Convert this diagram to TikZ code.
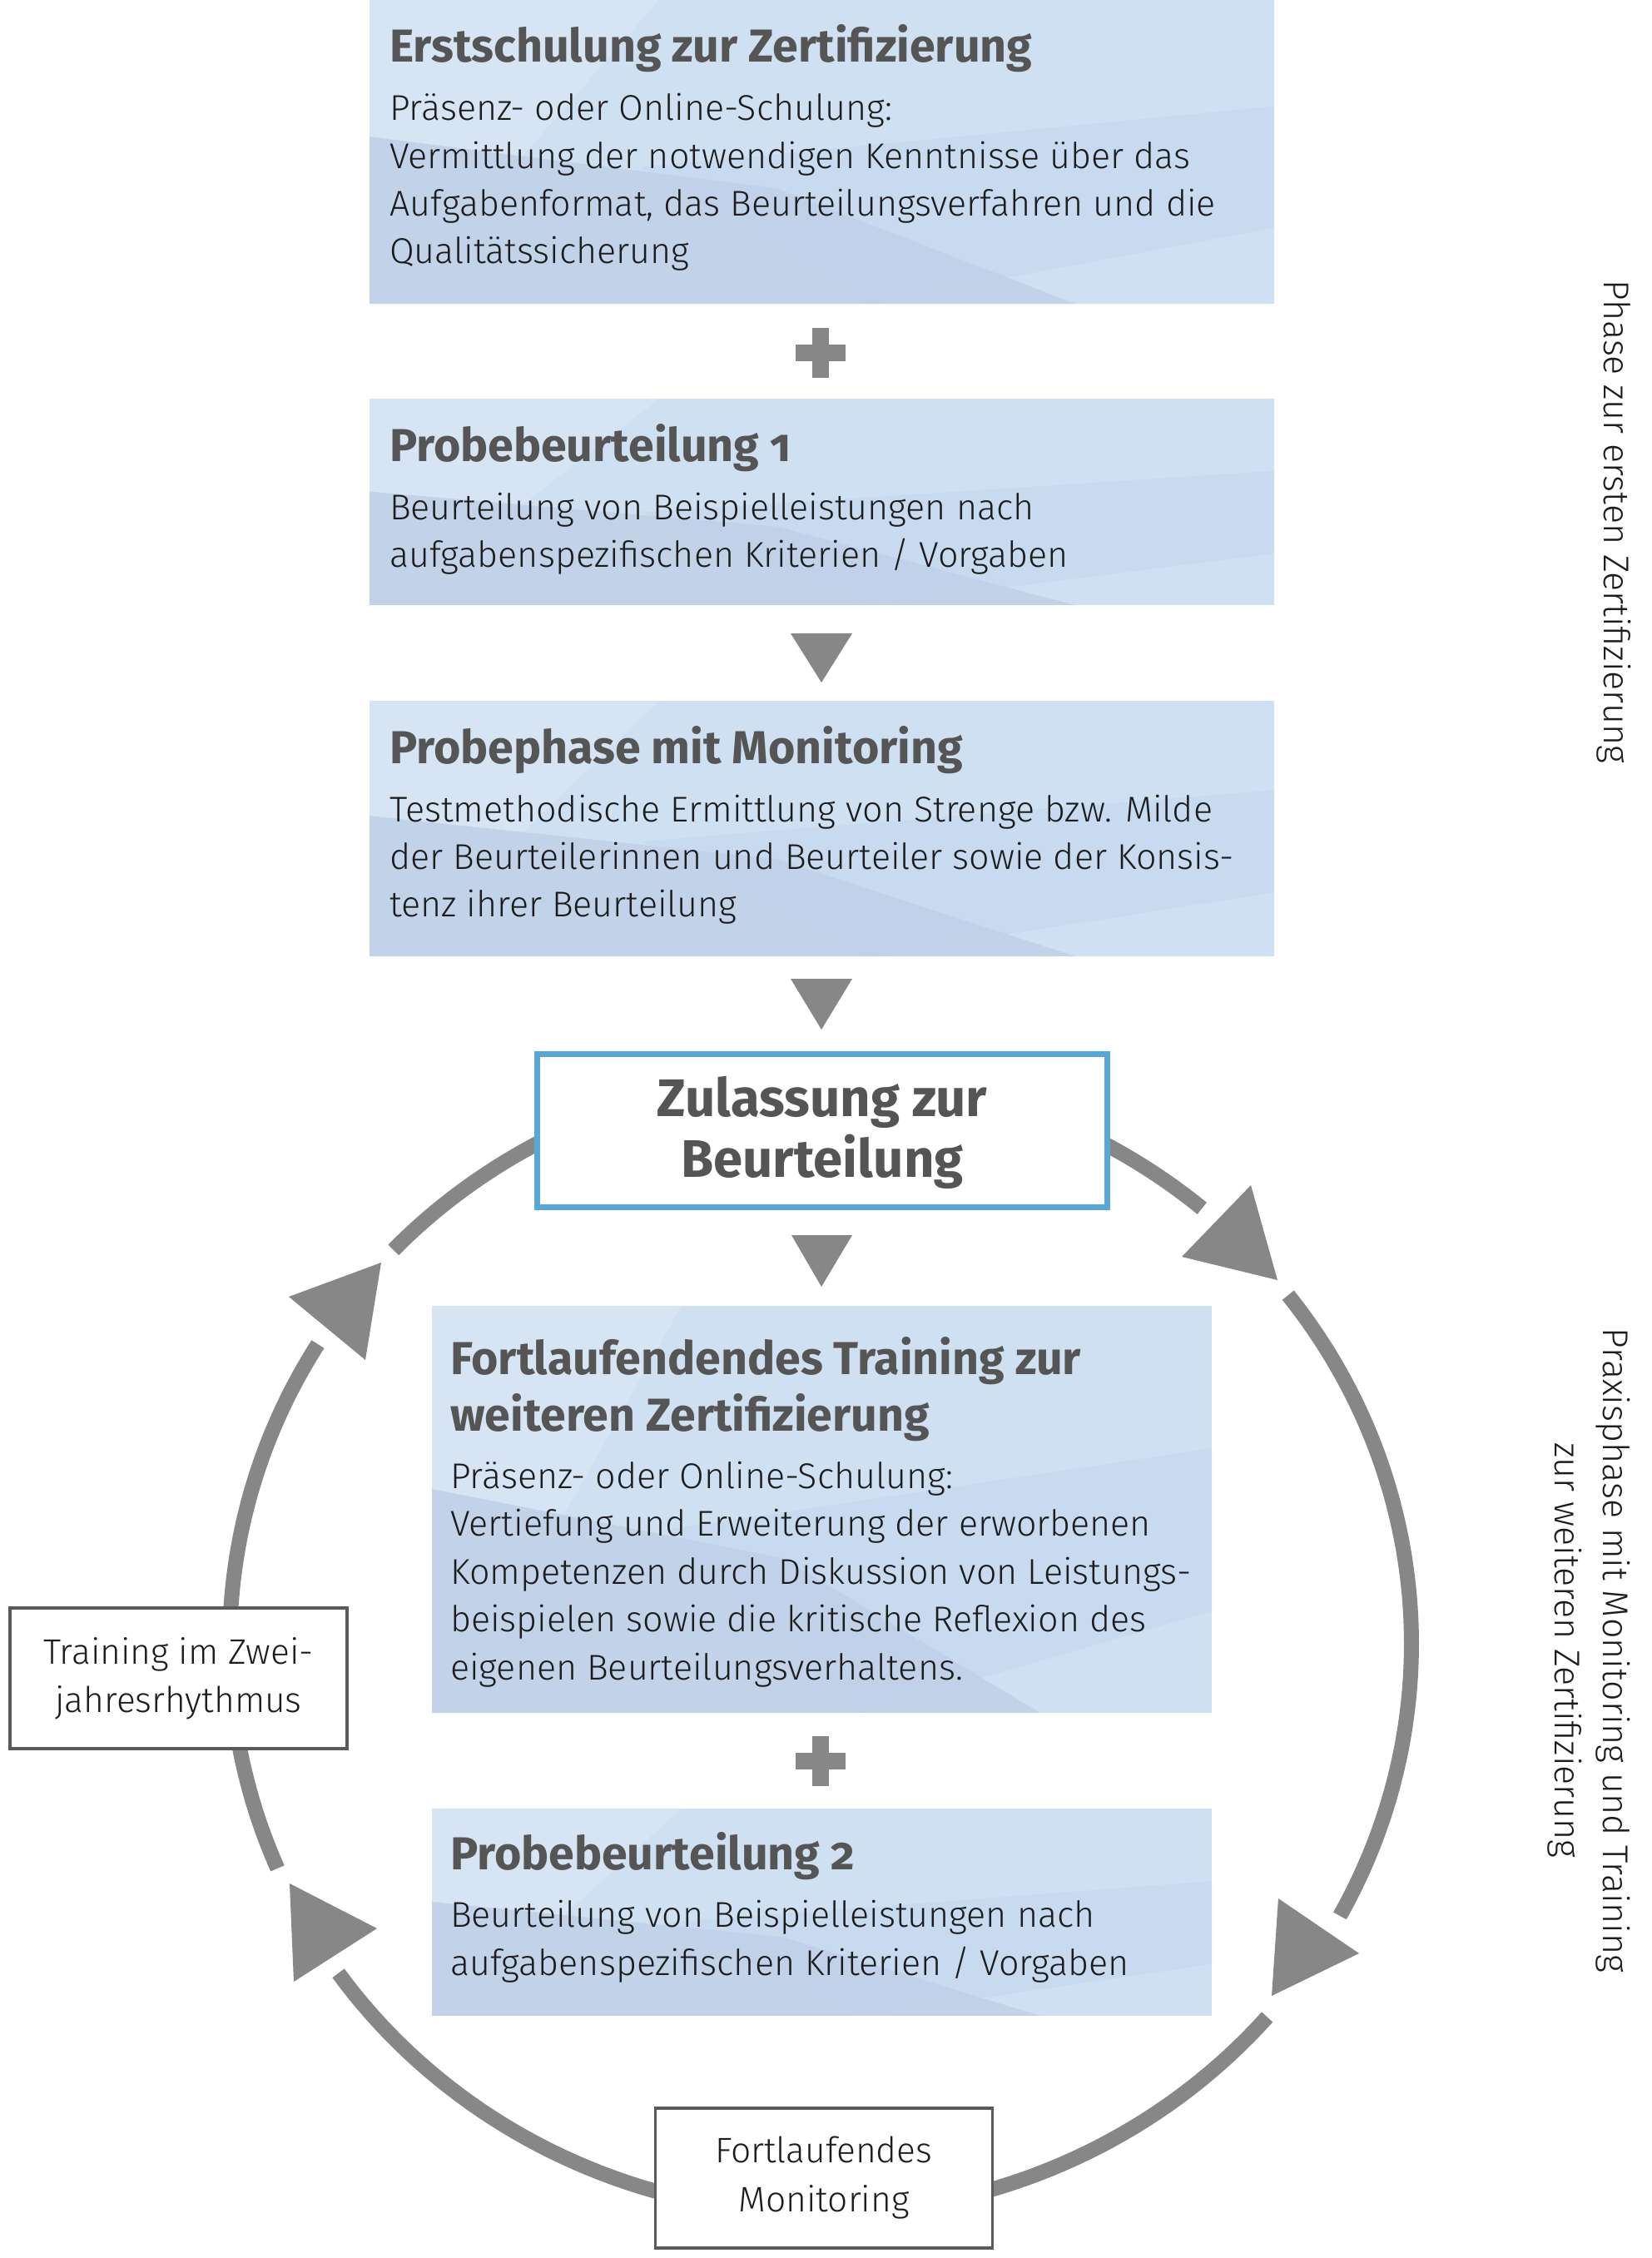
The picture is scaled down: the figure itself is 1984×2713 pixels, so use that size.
\documentclass[tikz,border=0pt]{standalone}
\usepackage{fontspec}
\setmainfont{Fira Sans}[UprightFont=* Light, BoldFont=* Bold]
\definecolor{boxbase}{HTML}{CFE0F2}
\definecolor{facetlight}{HTML}{D8E6F5}
\definecolor{facetdark}{HTML}{BFD0E8}
\definecolor{facetmid}{HTML}{C6D9EF}
\definecolor{headgray}{HTML}{555555}
\definecolor{bodyblack}{HTML}{1C1C1C}
\definecolor{arrowgray}{HTML}{878787}
\definecolor{zulblue}{HTML}{5AA7D6}
\definecolor{framegray}{HTML}{5A5A5A}
\newcommand\facetbox[5]{%
  \fill[boxbase] (#2,#3) rectangle (#4,#5);
  \begin{scope}
    \clip (#2,#3) rectangle (#4,#5);
    \fill[facetlight, fill opacity=0.8] (#2,#3) -- ({#2+0.32*(#4-#2)},#3) -- ({#2+0.1*(#4-#2)},{#3+0.75*(#5-#3)}) -- (#2,{#3+0.5*(#5-#3)}) -- cycle;
    \fill[facetmid, fill opacity=0.8] (#4,{#3+0.35*(#5-#3)}) -- (#4,{#3+0.75*(#5-#3)}) -- ({#2+0.55*(#4-#2)},#5) -- ({#2+0.3*(#4-#2)},{#3+0.55*(#5-#3)}) -- cycle;
    \fill[facetdark, fill opacity=0.85] (#2,{#3+0.45*(#5-#3)}) -- ({#2+0.45*(#4-#2)},{#3+0.62*(#5-#3)}) -- ({#2+0.78*(#4-#2)},#5) -- (#2,#5) -- cycle;
  \end{scope}
  \node[inner sep=0, minimum width={(#4-#2)*1pt}, minimum height={(#5-#3)*1pt}] (#1) at ({(#2+#4)/2},{(#3+#5)/2}) {};
}
\begin{document}
\begin{tikzpicture}[x=1pt,y=-1pt,
  head/.style={anchor=base west, inner sep=0, font=\fontsize{55.5}{66}\selectfont\bfseries, text=headgray},
  body/.style={anchor=base west, inner sep=0, font=\fontsize{43}{57}\selectfont, text=bodyblack},
  small/.style={anchor=base, inner sep=0, font=\fontsize{42.5}{58}\selectfont, text=bodyblack},
  side/.style={anchor=base, inner sep=0, rotate=-90, font=\fontsize{43}{58}\selectfont, text=bodyblack},
  zultext/.style={anchor=base, inner sep=0, font=\fontsize{63.5}{74}\selectfont\bfseries, text=headgray},
  ring/.style={line width=18pt, draw=arrowgray, line cap=butt},
  tri/.style={fill=arrowgray, draw=none},
  framebox/.style={draw=framegray, line width=3.5pt, fill=white, inner sep=0}
]
\useasboundingbox (0,0) rectangle (1984,2713);
\fill[white] (0,0) rectangle (1984,2713);

% ---- ring arcs
\draw[ring] plot[domain=49.8:136.3, samples=80] ({986+710*cos(\x)},{1975-685*sin(\x)});
\draw[ring] plot[domain=-28.5:37.7, samples=80] ({986+710*cos(\x)},{1975-685*sin(\x)});
\draw[ring] plot[domain=-144.7:-40.9, samples=80] ({986+710*cos(\x)},{1975-685*sin(\x)});
\draw[ring] plot[domain=148.3:203.2, samples=80] ({986+710*cos(\x)},{1975-685*sin(\x)});
% ---- ring arrowheads
\fill[tri] (347,1558) -- (458,1517) -- (439,1634) -- cycle;
\fill[tri] (1503,1424) -- (1420,1510) -- (1535,1538) -- cycle;
\fill[tri] (348,2263) -- (453,2317) -- (353,2381) -- cycle;
\fill[tri] (1536,2281) -- (1633,2347) -- (1528,2398) -- cycle;

% ---- box 1
\facetbox{box1}{444}{0}{1531}{365}
\node[head] (h1) at (468,75) {Erstschulung zur Zertifizierung};
\foreach \t [count=\i from 0] in {{Präsenz- oder Online-Schulung:},{Vermittlung der notwendigen Kenntnisse über das},{Aufgabenformat, das Beurteilungsverfahren und die},{Qualitätssicherung}}
  \node[body, name=b1-\i] at (468,{145+57.3*\i}) {\t};

% plus 1
\fill[arrowgray] (956,414) rectangle (1016,434);
\fill[arrowgray] (976,394) rectangle (996,454);

% ---- box 2
\facetbox{box2}{444}{479}{1531}{727}
\node[head] (h2) at (468,554) {Probebeurteilung \addfontfeatures{Numbers=OldStyle}1};
\foreach \t [count=\i from 0] in {{Beurteilung von Beispielleistungen nach},{aufgabenspezifischen Kriterien / Vorgaben}}
  \node[body, name=b2-\i] at (468,{624+57.3*\i}) {\t};

\fill[tri] (950,761) -- (1024,761) -- (987,820) -- cycle;

% ---- box 3
\facetbox{box3}{444}{842}{1531}{1149}
\node[head] (h3) at (468,917) {Probephase mit Monitoring};
\foreach \t [count=\i from 0] in {{Testmethodische Ermittlung von Strenge bzw. Milde},{der Beurteilerinnen und Beurteiler sowie der Konsis-},{tenz ihrer Beurteilung}}
  \node[body, name=b3-\i] at (468,{987+57.3*\i}) {\t};

\fill[tri] (950,1176) -- (1024,1176) -- (987,1237) -- cycle;

% ---- Zulassung
\node[draw=zulblue, line width=7pt, fill=white, inner sep=0, minimum width=685pt, minimum height=184pt] (zul) at (988,1358.5) {};
\node[zultext] (z1) at (988,1341) {Zulassung zur};
\node[zultext] (z2) at (988,1414) {Beurteilung};

\fill[tri] (951,1484) -- (1024,1484) -- (987,1546) -- cycle;

% ---- box 4
\facetbox{box4}{519}{1569}{1456}{2058}
\node[head] (h4a) at (541,1651) {Fortlaufendendes Training zur};
\node[head] (h4b) at (541,1719) {weiteren Zertifizierung};
\foreach \t [count=\i from 0] in {{Präsenz- oder Online-Schulung:},{Vertiefung und Erweiterung der erworbenen},{Kompetenzen durch Diskussion von Leistungs-},{beispielen sowie die kritische Reflexion des},{eigenen Beurteilungsverhaltens.}}
  \node[body, name=b4-\i] at (541,{1788+57.5*\i}) {\t};

% plus 2
\fill[arrowgray] (956,2106) rectangle (1016,2126);
\fill[arrowgray] (976,2086) rectangle (996,2146);

% ---- box 5
\facetbox{box5}{519}{2173}{1456}{2422}
\node[head] (h5) at (541,2246) {Probebeurteilung \addfontfeatures{Numbers=OldStyle}2};
\foreach \t [count=\i from 0] in {{Beurteilung von Beispielleistungen nach},{aufgabenspezifischen Kriterien / Vorgaben}}
  \node[body, name=b5-\i] at (541,{2315+58*\i}) {\t};

% ---- side boxes on ring
\node[framebox, minimum width=405pt, minimum height=169pt] (train) at (214.5,2016.5) {};
\node[small] (t1) at (214.5,1999) {Training im Zwei-};
\node[small] (t2) at (214.5,2057) {jahresrhythmus};

\node[framebox, minimum width=405pt, minimum height=168pt] (mon) at (990,2617) {};
\node[small] (m1) at (990,2598) {Fortlaufendes};
\node[small] (m2) at (990,2657) {Monitoring};

% ---- side labels
\node[side] (s1) at (1927,627) {Phase zur ersten Zertifizierung};
\node[side] (s2a) at (1926,1983) {Praxisphase mit Monitoring und Training};
\node[side] (s2b) at (1868,1983) {zur weiteren Zertifizierung};
\end{tikzpicture}
\end{document}
